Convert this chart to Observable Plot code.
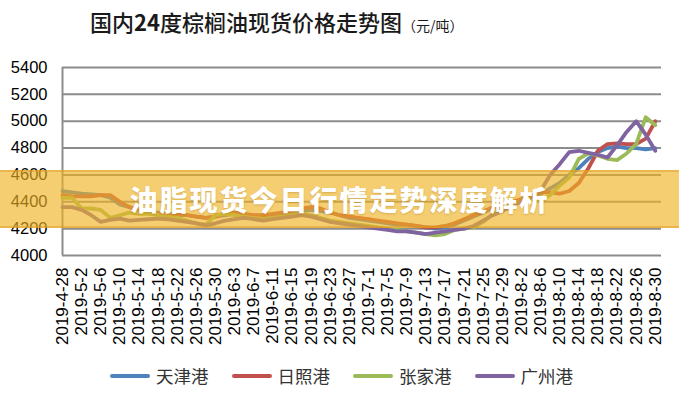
<!DOCTYPE html>
<html>
<head>
<meta charset="utf-8">
<script src="https://cdn.jsdelivr.net/npm/d3@7"></script>
<script src="https://cdn.jsdelivr.net/npm/@observablehq/plot@0.6"></script>
<style>
  html, body { margin: 0; padding: 0; background: #fff; }
  #wrap { position: relative; width: 679px; height: 400px; overflow: hidden; background: #fff; }
  #chart { position: absolute; left: 0; top: 0; }
  #title { position: absolute; left: 90px; top: 10px; font-family: "Noto Sans CJK SC", sans-serif; font-size: 22px; line-height: 23px; font-weight: 500; color: #1a1a1a; white-space: nowrap; }
  #title b { font-weight: 700; }
  #title span { font-size: 14px; font-weight: 400; }
  #legend { position: absolute; left: 110px; top: 363px; display: flex; align-items: center; font-family: "Noto Sans CJK SC", sans-serif; font-size: 17.5px; color: #333; }
  .item { display: flex; align-items: center; margin-right: 23px; }
  .swatch { width: 40px; height: 4px; border-radius: 2px; margin-right: 6px; }
  #banner { position: absolute; left: 0; top: 170px; width: 679px; height: 58px; background: rgba(240,178,35,0.64);
    border-top: 2px solid rgba(220,150,30,0.45); border-bottom: 2px solid rgba(220,150,30,0.45); box-sizing: border-box;
    display: flex; align-items: center; justify-content: center; }
  #banner div { font-family: "Noto Sans CJK SC", sans-serif; font-weight: 900; font-size: 28px; letter-spacing: 2px; color: #fff; text-shadow: 0 1px 2px rgba(120,80,0,0.25); }
</style>
</head>
<body>
<div id="wrap">
  <div id="chart"></div>
  <div id="title"></div>
  <div id="legend"></div>
  <div id="banner"><div id="bannerText"></div></div>
</div>
<script>
const titlePre = "国内";
const titleNum = "24";
const titlePost = "度棕榈油现货价格走势图";
const unitText = "（元/吨）";
const bannerText = "油脂现货今日行情走势深度解析";

const seriesNames = ["天津港", "日照港", "张家港", "广州港"];
const seriesColors = ["#4F81BD", "#C0504D", "#9BBB59", "#8064A2"];

const yTicks = [4000, 4200, 4400, 4600, 4800, 5000, 5200, 5400];

const tickLabels = ["2019-4-28","2019-5-2","2019-5-6","2019-5-10","2019-5-14","2019-5-18","2019-5-22","2019-5-26","2019-5-30",
  "2019-6-3","2019-6-7","2019-6-11","2019-6-15","2019-6-19","2019-6-23","2019-6-27","2019-7-1","2019-7-5","2019-7-9",
  "2019-7-13","2019-7-17","2019-7-21","2019-7-25","2019-7-29","2019-8-2","2019-8-6","2019-8-10","2019-8-14","2019-8-18",
  "2019-8-22","2019-8-26","2019-8-30"];

const dates = ["2019-4-28","2019-4-30","2019-5-2","2019-5-4","2019-5-6","2019-5-8","2019-5-10","2019-5-12",
  "2019-5-14","2019-5-16","2019-5-18","2019-5-20","2019-5-22","2019-5-24","2019-5-26","2019-5-28",
  "2019-5-30","2019-6-1","2019-6-3","2019-6-5","2019-6-7","2019-6-9","2019-6-11","2019-6-13",
  "2019-6-15","2019-6-17","2019-6-19","2019-6-21","2019-6-23","2019-6-25","2019-6-27","2019-6-29",
  "2019-7-1","2019-7-3","2019-7-5","2019-7-7","2019-7-9","2019-7-11","2019-7-13","2019-7-15",
  "2019-7-17","2019-7-19","2019-7-21","2019-7-23","2019-7-25","2019-7-27","2019-7-29","2019-7-31",
  "2019-8-2","2019-8-4","2019-8-6","2019-8-8","2019-8-10","2019-8-12","2019-8-14","2019-8-16",
  "2019-8-18","2019-8-20","2019-8-22","2019-8-24","2019-8-26","2019-8-28","2019-8-30"];

const tianjin = [4480,4470,4460,4455,4450,4430,4380,4360,
  4340,4330,4320,4310,4300,4300,4290,4280,
  4290,4300,4310,4300,4290,4280,4300,4310,
  4320,4330,4340,4330,4320,4300,4280,4270,
  4260,4250,4240,4230,4230,4220,4210,4200,
  4210,4230,4260,4290,4320,4350,4370,4390,
  4410,4430,4460,4500,4540,4600,4650,4720,
  4770,4800,4810,4800,4800,4790,4800];

const rizhao = [4450,4440,4440,4440,4450,4450,4400,4360,
  4340,4320,4310,4300,4310,4300,4290,4280,
  4290,4310,4320,4310,4300,4300,4310,4320,
  4330,4350,4360,4350,4320,4300,4290,4280,
  4270,4260,4250,4240,4230,4220,4210,4210,
  4220,4240,4270,4300,4330,4360,4380,4400,
  4420,4440,4470,4470,4460,4480,4540,4650,
  4780,4830,4835,4830,4830,4870,5000];

const zhangjia = [4430,4430,4350,4350,4340,4280,4300,4320,
  4310,4310,4300,4290,4280,4260,4240,4230,
  4300,4310,4300,4290,4280,4270,4280,4290,
  4300,4310,4300,4280,4260,4250,4240,4230,
  4220,4210,4200,4190,4180,4170,4160,4150,
  4160,4190,4200,4210,4250,4310,4350,4380,
  4400,4410,4410,4450,4520,4580,4720,4760,
  4745,4720,4710,4760,4830,5030,4970];

const guangzhou = [4360,4360,4340,4300,4250,4265,4275,4260,
  4265,4270,4275,4270,4260,4250,4240,4225,
  4240,4260,4270,4280,4270,4260,4270,4280,
  4290,4300,4290,4270,4250,4240,4230,4220,
  4210,4200,4190,4180,4180,4170,4160,4170,
  4180,4190,4200,4220,4260,4300,4330,4370,
  4400,4430,4480,4600,4680,4770,4780,4765,
  4750,4730,4820,4920,5000,4900,4780];

const parse = s => { const [y, m, d] = s.split("-").map(Number); return new Date(Date.UTC(y, m - 1, d)); };
const fmt = d => `${d.getUTCFullYear()}-${d.getUTCMonth() + 1}-${d.getUTCDate()}`;

const seriesValues = [tianjin, rizhao, zhangjia, guangzhou];
const data = [];
seriesNames.forEach((name, k) => {
  dates.forEach((s, i) => data.push({ series: name, date: parse(s), value: seriesValues[k][i] }));
});

const tickDates = tickLabels.map(parse);
const x0 = parse(dates[0]);
const x1 = new Date(parse(dates[dates.length - 1]).getTime() + 1.3 * 86400000);

const grid = "#8c8c8c";
const chart = Plot.plot({
  width: 679,
  height: 400,
  marginTop: 67,
  marginBottom: 145,
  marginLeft: 62,
  marginRight: 18,
  style: { fontFamily: "'Liberation Sans', Arial, sans-serif", color: "#000", background: "transparent", overflow: "visible" },
  x: { type: "utc", domain: [x0, x1] },
  y: { domain: [4000, 5400] },
  color: { domain: seriesNames, range: seriesColors },
  marks: [
    Plot.ruleY(yTicks.slice(1), { stroke: grid, strokeWidth: 2 }),
    Plot.ruleY([4000], { stroke: grid, strokeWidth: 2 }),
    Plot.ruleX([x0], { stroke: grid, strokeWidth: 2 }),
    Plot.axisY({ ticks: yTicks, tickSize: 0, tickPadding: 15, fontSize: 16.5, label: null, tickFormat: d => String(d) }),
    Plot.axisX({ ticks: tickDates, tickSize: 0, tickPadding: 12, tickRotate: -90, fontSize: 17, label: null, tickFormat: fmt }),
    Plot.line(data, { x: "date", y: "value", z: "series", stroke: "series", strokeWidth: 3.8, strokeLinejoin: "round", strokeLinecap: "round" })
  ]
});
document.getElementById("chart").appendChild(chart);

const title = document.getElementById("title");
title.append(titlePre);
const b = document.createElement("b"); b.textContent = titleNum; title.append(b);
title.append(titlePost);
const u = document.createElement("span"); u.textContent = unitText; title.append(u);
document.getElementById("bannerText").textContent = bannerText;

const legend = document.getElementById("legend");
seriesNames.forEach((name, i) => {
  const item = document.createElement("div");
  item.className = "item";
  const sw = document.createElement("div");
  sw.className = "swatch";
  sw.style.background = seriesColors[i];
  const t = document.createElement("span");
  t.textContent = name;
  item.appendChild(sw);
  item.appendChild(t);
  legend.appendChild(item);
});
</script>
</body>
</html>
